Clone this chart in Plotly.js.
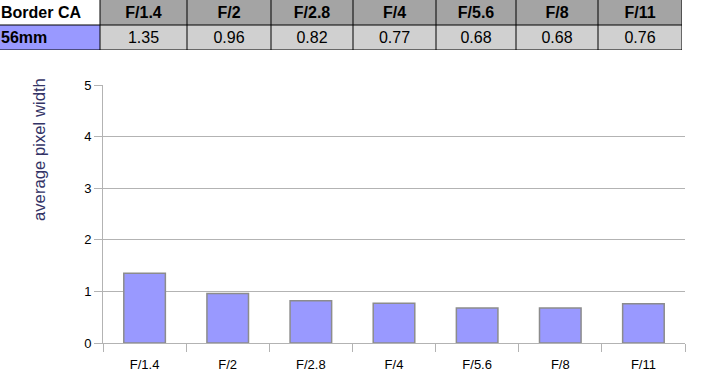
<!DOCTYPE html>
<html>
<head>
<meta charset="utf-8">
<script src="https://cdn.plot.ly/plotly-3.0.1.min.js"></script>
<style>html,body{margin:0;padding:0;background:#fff;}#chart{width:707px;height:391px;}</style>
</head>
<body>
<div id="chart"></div>
<script>
var categories = ["F/1.4", "F/2", "F/2.8", "F/4", "F/5.6", "F/8", "F/11"];
var values = [1.35, 0.96, 0.82, 0.77, 0.68, 0.68, 0.76];
var tableTitle = "Border CA";
var seriesName = "56mm";
var yTitle = "average pixel width";

var W = 707, H = 391;
var plotL = 103, plotR = 685, plotT = 85, plotB = 343;

// table geometry (layout only)
var colEdges = [0, 100, 187, 271, 353, 436, 516, 598, 682];
var rowEdges = [0, 25, 50];
var tableW = colEdges[colEdges.length - 1];
var tableH = rowEdges[rowEdges.length - 1];

// table contents from data arrays
var headerRow = [tableTitle].concat(categories);
var dataRow = [seriesName].concat(values.map(function (v) { return v.toFixed(2); }));

// heatmap for cell fills: 0 white, 1 header gray, 2 blue, 3 light gray
var zFill = [
  headerRow.map(function (_, i) { return i === 0 ? 0 : 1; }),
  dataRow.map(function (_, i) { return i === 0 ? 2 : 3; })
];
var fillTrace = {
  type: "heatmap",
  x: colEdges, y: rowEdges, z: zFill,
  xaxis: "x2", yaxis: "y2",
  zmin: 0, zmax: 3,
  colorscale: [[0, "#ffffff"], [0.25, "#ffffff"], [0.25, "#a4a4a4"], [0.5, "#a4a4a4"],
               [0.5, "#9999ff"], [0.75, "#9999ff"], [0.75, "#d0d0d0"], [1, "#d0d0d0"]],
  showscale: false, hoverinfo: "skip"
};

function colCenter(i) { return (colEdges[i] + colEdges[i + 1]) / 2; }
function rowCenter(j) { return (rowEdges[j] + rowEdges[j + 1]) / 2; }

var tx = [], ty = [], tt = [], tpos = [];
[headerRow, dataRow].forEach(function (row, j) {
  row.forEach(function (label, i) {
    var bold = (j === 0 || i === 0);
    tx.push(i === 0 ? colEdges[0] + 1 : colCenter(i));
    ty.push(rowCenter(j) + 1);
    tt.push(bold ? "<b>" + label + "</b>" : label);
    tpos.push(i === 0 ? "middle right" : "middle center");
  });
});
var textTrace = {
  type: "scatter", mode: "text",
  x: tx, y: ty, text: tt, textposition: tpos,
  xaxis: "x2", yaxis: "y2",
  textfont: {family: "Liberation Sans, Arial, sans-serif", size: 16, color: "#000000"},
  hoverinfo: "skip", showlegend: false, cliponaxis: false
};

var barTrace = {
  type: "bar",
  x: categories,
  y: values,
  width: 0.5,
  marker: {color: "#9999ff", line: {color: "#8c8c8c", width: 1.5}},
  hoverinfo: "x+y",
  showlegend: false
};

var shapes = [];
colEdges.slice(1).forEach(function (xe) {
  shapes.push({type: "line", xref: "x2", yref: "y2", x0: xe, x1: xe, y0: rowEdges[0], y1: tableH,
               line: {color: "#000000", width: 1}, layer: "above"});
});
rowEdges.slice(1).forEach(function (ye) {
  shapes.push({type: "line", xref: "x2", yref: "y2", x0: colEdges[0], x1: tableW, y0: ye, y1: ye,
               line: {color: "#000000", width: 1}, layer: "above"});
});

var layout = {
  width: W, height: H,
  margin: {l: 0, r: 0, t: 0, b: 0},
  paper_bgcolor: "#ffffff",
  plot_bgcolor: "#ffffff",
  font: {family: "Liberation Sans, Arial, sans-serif", size: 13, color: "#000000"},
  showlegend: false,
  xaxis: {
    domain: [plotL / W, plotR / W],
    type: "category",
    tickson: "boundaries",
    ticks: "outside",
    ticklen: 8,
    tickcolor: "#b3b3b3",
    tickwidth: 1,
    ticklabelstandoff: 9,
    showgrid: false,
    showline: true,
    linecolor: "#b3b3b3",
    linewidth: 1,
    tickfont: {size: 13, color: "#000000"},
    fixedrange: true,
    anchor: "y"
  },
  yaxis: {
    domain: [1 - plotB / H, 1 - plotT / H],
    range: [0, 5],
    dtick: 1,
    ticks: "outside",
    ticklen: 8,
    tickcolor: "#b3b3b3",
    showgrid: true,
    gridcolor: "#b3b3b3",
    gridwidth: 1,
    showline: true,
    linecolor: "#b3b3b3",
    zeroline: false,
    tickfont: {size: 13, color: "#000000"},
    fixedrange: true,
    anchor: "x"
  },
  xaxis2: {
    domain: [0, tableW / W],
    range: [0, tableW],
    visible: false, fixedrange: true, anchor: "y2"
  },
  yaxis2: {
    domain: [1 - tableH / H, 1],
    range: [tableH, 0],
    visible: false, fixedrange: true, anchor: "x2"
  },
  shapes: shapes,
  annotations: [{
    text: yTitle,
    xref: "paper", yref: "paper",
    x: 40 / W, y: 1 - 150 / H,
    textangle: -90,
    showarrow: false,
    font: {size: 16.7, color: "#333366"},
    xanchor: "center", yanchor: "middle"
  }]
};

Plotly.newPlot("chart", [barTrace, fillTrace, textTrace], layout, {displayModeBar: false, staticPlot: true});
</script>
</body>
</html>
